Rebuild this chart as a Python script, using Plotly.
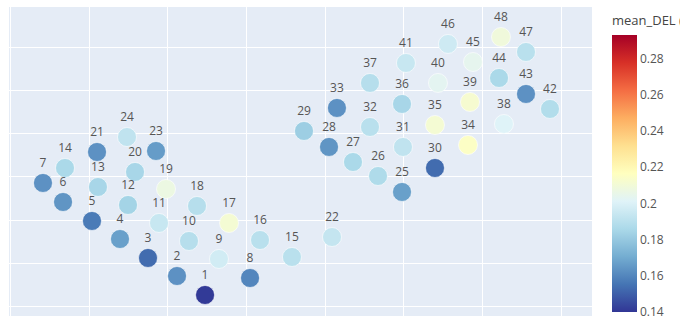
import plotly.graph_objects as go

turbine_id = list(range(1, 49))
x_pos = [1.475, 1.119, 0.750, 0.394, 0.038, -0.330, -0.585, 2.047, 1.652, 1.271,
         0.890, 0.496, 0.114, -0.305, 2.580, 2.174, 1.780, 1.373, 0.979, 0.585,
         0.102, 3.089, 0.852, 0.483, 3.979, 3.674, 3.356, 3.051, 2.733, 4.398,
         3.991, 3.572, 3.152, 4.818, 4.398, 3.979, 3.572, 5.275, 4.843, 4.436,
         4.029, 5.860, 5.555, 5.212, 4.881, 4.563, 5.555, 5.237]
y_pos = [0.277, 0.715, 1.131, 1.569, 1.985, 2.423, 2.862, 0.669, 1.108, 1.523,
         1.939, 2.354, 2.769, 3.208, 1.154, 1.546, 1.939, 2.331, 2.723, 3.116,
         3.577, 1.615, 3.600, 3.923, 2.654, 3.023, 3.346, 3.693, 4.062, 3.208,
         3.693, 4.154, 4.593, 3.739, 4.200, 4.685, 5.170, 4.223, 4.731, 5.170,
         5.631, 4.570, 4.916, 5.285, 5.654, 6.070, 5.885, 6.231]
mean_del = [0.141, 0.163, 0.153, 0.167, 0.157, 0.164, 0.163, 0.160, 0.197, 0.189,
            0.194, 0.184, 0.185, 0.186, 0.190, 0.190, 0.211, 0.189, 0.207, 0.185,
            0.163, 0.193, 0.166, 0.192, 0.167, 0.187, 0.186, 0.164, 0.182, 0.153,
            0.192, 0.190, 0.163, 0.215, 0.211, 0.185, 0.189, 0.201, 0.212, 0.203,
            0.194, 0.188, 0.163, 0.186, 0.204, 0.196, 0.190, 0.209]
cbar_ticks = [0.14, 0.16, 0.18, 0.20, 0.22, 0.24, 0.26, 0.28]
cbar_ticktext = ["0.14", "0.16", "0.18", "0.2", "0.22", "0.24", "0.26", "0.28"]

fig = go.Figure()
fig.add_trace(go.Scatter(
    x=x_pos, y=y_pos, mode="markers+text",
    text=[str(t) for t in turbine_id], textposition="top center",
    textfont=dict(size=12, color="#555555"),
    marker=dict(
        size=19, color=mean_del, colorscale="RdYlBu_r", cmin=0.14, cmax=0.293,
        line=dict(width=1, color="rgba(255,255,255,0.6)"),
        colorbar=dict(
            title=dict(text="mean_DEL (kNm)", side="top", font=dict(size=13, color="#444")),
            tickvals=cbar_ticks, ticktext=cbar_ticktext,
            tickfont=dict(size=12, color="#555"),
            thickness=25, lenmode="pixels", len=300,
            x=1.0343, xanchor="left", xpad=0,
            y=0.013, yanchor="bottom", ypad=0,
            outlinewidth=0,
        ),
    ),
    showlegend=False,
    hoverinfo="skip",
))

fig.update_layout(
    width=680, height=323,
    margin=dict(l=9, r=88, t=7, b=7, autoexpand=False),
    paper_bgcolor="white", plot_bgcolor="#E5ECF6",
    font=dict(family="Open Sans, sans-serif"),
    xaxis=dict(range=[-1.017, 6.394], dtick=1, tick0=0, showticklabels=False,
               gridcolor="white", zeroline=False, showline=False),
    yaxis=dict(range=[-0.208, 6.923], dtick=1, tick0=0, showticklabels=False,
               gridcolor="white", zeroline=False, showline=False),
)

fig.write_html("out.html")
